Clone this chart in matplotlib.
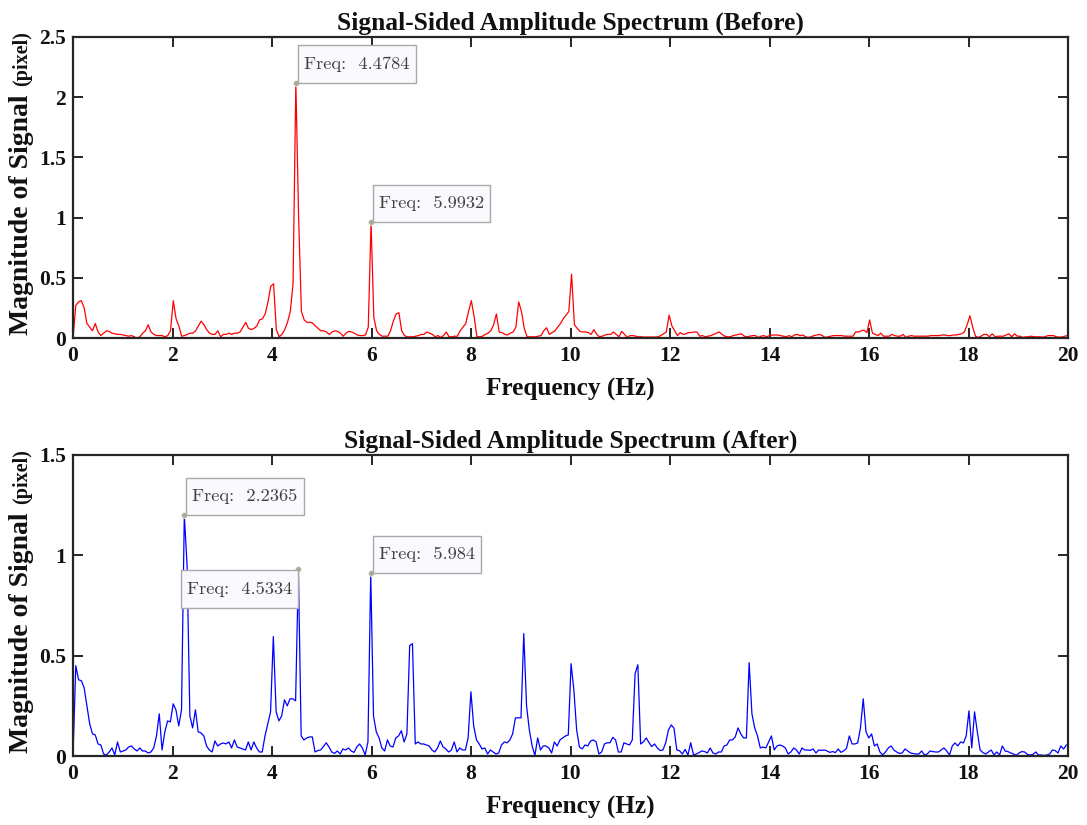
import numpy as np
import matplotlib
matplotlib.use("Agg")
import matplotlib.pyplot as plt

# ---------------- data ----------------
DF_BEFORE = 0.05599   # frequency resolution (Hz) of the "before" spectrum
DF_AFTER = 0.05593    # frequency resolution (Hz) of the "after" spectrum

amp_before = [
    0, 0.27, 0.30, 0.31, 0.25, 0.12, 0.09, 0.06, 0.12, 0.05,
    0.02, 0.04, 0.06, 0.055, 0.04, 0.035, 0.03, 0.03, 0.025, 0.02,
    0.015, 0.02, 0.01, 0.0, 0.01, 0.04, 0.06, 0.11, 0.05, 0.03,
    0.02, 0.02, 0.02, 0.01, 0.02, 0.06, 0.31, 0.16, 0.10, 0.015,
    0.02, 0.03, 0.04, 0.04, 0.06, 0.10, 0.14, 0.11, 0.07, 0.04,
    0.03, 0.03, 0.06, 0.01, 0.03, 0.03, 0.04, 0.03, 0.04, 0.04,
    0.05, 0.09, 0.13, 0.08, 0.07, 0.08, 0.10, 0.15, 0.16, 0.20,
    0.30, 0.43, 0.45, 0.07, 0.01, 0.03, 0.07, 0.13, 0.22, 0.45,
    2.12, 1.0, 0.22, 0.15, 0.13, 0.13, 0.125, 0.10, 0.08, 0.06,
    0.06, 0.05, 0.03, 0.05, 0.06, 0.055, 0.04, 0.015, 0.04, 0.055,
    0.05, 0.04, 0.025, 0.02, 0.02, 0.025, 0.09, 0.96, 0.17, 0.06,
    0.03, 0.015, 0.015, 0.015, 0.06, 0.14, 0.20, 0.21, 0.06, 0.02,
    0.01, 0.01, 0.01, 0.015, 0.02, 0.03, 0.03, 0.05, 0.04, 0.03,
    0.01, 0.02, 0.005, 0.02, 0.05, 0.01, 0.01, 0.015, 0.015, 0.06,
    0.09, 0.12, 0.22, 0.31, 0.18, 0.01, 0.01, 0.015, 0.03, 0.04,
    0.06, 0.11, 0.20, 0.05, 0.045, 0.03, 0.025, 0.04, 0.05, 0.09,
    0.30, 0.22, 0.08, 0.01, 0.01, 0.01, 0.01, 0.015, 0.02, 0.06,
    0.085, 0.03, 0.045, 0.06, 0.09, 0.12, 0.16, 0.19, 0.22, 0.53,
    0.11, 0.08, 0.055, 0.05, 0.05, 0.045, 0.03, 0.07, 0.03, 0.01,
    0.015, 0.025, 0.03, 0.03, 0.05, 0.03, 0.01, 0.055, 0.03, 0.005,
    0.02, 0.02, 0.015, 0.01, 0.01, 0.008, 0.008, 0.008, 0.008, 0.008,
    0.01, 0.02, 0.035, 0.05, 0.19, 0.10, 0.06, 0.02, 0.045, 0.03,
    0.035, 0.045, 0.045, 0.05, 0.05, 0.015, 0.02, 0.01, 0.015, 0.02,
    0.03, 0.04, 0.05, 0.03, 0.015, 0.01, 0.01, 0.02, 0.025, 0.03,
    0.035, 0.015, 0.01, 0.015, 0.02, 0.02, 0.005, 0.015, 0.02, 0.01,
    0.02, 0.025, 0.025, 0.025, 0.02, 0.015, 0.01, 0.02, 0.01, 0.025,
    0.03, 0.02, 0.025, 0.01, 0.005, 0.01, 0.02, 0.025, 0.03, 0.02,
    0.005, 0.01, 0.015, 0.02, 0.02, 0.02, 0.02, 0.015, 0.015, 0.015,
    0.015, 0.05, 0.05, 0.06, 0.065, 0.045, 0.15, 0.04, 0.03, 0.02,
    0.04, 0.015, 0.015, 0.015, 0.03, 0.02, 0.015, 0.015, 0.03, 0.005,
    0.015, 0.02, 0.015, 0.015, 0.015, 0.015, 0.015, 0.015, 0.02, 0.02,
    0.02, 0.02, 0.025, 0.025, 0.02, 0.02, 0.025, 0.025, 0.03, 0.035,
    0.05, 0.11, 0.185, 0.09, 0.015, 0.005, 0.015, 0.03, 0.03, 0.01,
    0.035, 0.01, 0.015, 0.015, 0.015, 0.025, 0.035, 0.01, 0.035, 0.015,
    0.015, 0.005, 0.01, 0.01, 0.015, 0.01, 0.01, 0.01, 0.008, 0.01,
    0.02, 0.02, 0.02, 0.01, 0.008, 0.008, 0.015, 0.02,
]

amp_after = [
    0, 0.45, 0.38, 0.375, 0.34, 0.25, 0.16, 0.11, 0.105, 0.06,
    0.055, 0.01, 0.005, 0.02, 0.04, 0.005, 0.07, 0.02, 0.025, 0.03,
    0.045, 0.05, 0.035, 0.025, 0.04, 0.025, 0.025, 0.015, 0.02, 0.04,
    0.10, 0.21, 0.03, 0.12, 0.175, 0.17, 0.26, 0.23, 0.15, 0.23,
    1.20, 0.95, 0.20, 0.14, 0.23, 0.12, 0.115, 0.10, 0.05, 0.03,
    0.02, 0.075, 0.05, 0.06, 0.065, 0.06, 0.07, 0.04, 0.08, 0.045,
    0.04, 0.035, 0.03, 0.07, 0.03, 0.07, 0.04, 0.02, 0.02, 0.10,
    0.16, 0.22, 0.595, 0.22, 0.175, 0.20, 0.28, 0.25, 0.285, 0.285,
    0.275, 0.93, 0.10, 0.08, 0.09, 0.095, 0.095, 0.02, 0.027, 0.03,
    0.047, 0.066, 0.045, 0.02, 0.013, 0.025, 0.01, 0.035, 0.03, 0.04,
    0.025, 0.018, 0.045, 0.06, 0.04, 0.005, 0.07, 0.91, 0.20, 0.12,
    0.09, 0.04, 0.025, 0.08, 0.05, 0.045, 0.09, 0.10, 0.126, 0.07,
    0.11, 0.55, 0.56, 0.06, 0.07, 0.06, 0.06, 0.055, 0.05, 0.03,
    0.02, 0.04, 0.075, 0.045, 0.035, 0.02, 0.03, 0.07, 0.02, 0.04,
    0.03, 0.03, 0.09, 0.32, 0.15, 0.08, 0.06, 0.035, 0.04, 0.01,
    0.03, 0.02, 0.01, 0.015, 0.055, 0.07, 0.066, 0.08, 0.11, 0.19,
    0.19, 0.19, 0.61, 0.25, 0.13, 0.05, 0.003, 0.09, 0.03, 0.05,
    0.05, 0.04, 0.015, 0.07, 0.05, 0.08, 0.09, 0.10, 0.105, 0.46,
    0.33, 0.13, 0.045, 0.035, 0.055, 0.05, 0.075, 0.08, 0.07, 0.01,
    0.02, 0.06, 0.066, 0.066, 0.093, 0.08, 0.02, 0.02, 0.066, 0.06,
    0.055, 0.08, 0.41, 0.455, 0.06, 0.07, 0.09, 0.067, 0.047, 0.06,
    0.04, 0.027, 0.03, 0.065, 0.13, 0.155, 0.138, 0.03, 0.026, 0.01,
    0.033, 0.005, 0.066, 0.005, 0.01, 0.017, 0.025, 0.022, 0.015, 0.04,
    0.015, 0.01, 0.02, 0.02, 0.05, 0.055, 0.08, 0.08, 0.095, 0.14,
    0.11, 0.09, 0.09, 0.465, 0.21, 0.14, 0.10, 0.04, 0.045, 0.04,
    0.07, 0.10, 0.03, 0.05, 0.055, 0.05, 0.04, 0.01, 0.02, 0.04,
    0.03, 0.01, 0.04, 0.03, 0.03, 0.028, 0.035, 0.015, 0.03, 0.028,
    0.03, 0.025, 0.018, 0.022, 0.017, 0.035, 0.018, 0.026, 0.038, 0.10,
    0.06, 0.06, 0.065, 0.14, 0.285, 0.12, 0.09, 0.11, 0.05, 0.06,
    0.02, 0.005, 0.02, 0.04, 0.05, 0.03, 0.02, 0.013, 0.015, 0.035,
    0.025, 0.015, 0.012, 0.01, 0.01, 0.025, 0.005, 0.01, 0.025, 0.022,
    0.02, 0.02, 0.03, 0.04, 0.025, 0.005, 0.05, 0.065, 0.05, 0.07,
    0.065, 0.10, 0.225, 0.04, 0.22, 0.12, 0.03, 0.017, 0.01, 0.02,
    0.03, 0.005, 0.02, 0.005, 0.05, 0.025, 0.022, 0.015, 0.01, 0.003,
    0.015, 0.022, 0.02, 0.008, 0.005, 0.008, 0.02, 0.005, 0.005, 0.003,
    0.005, 0.01, 0.03, 0.027, 0.015, 0.05, 0.035, 0.055,
]

freq_before = np.arange(len(amp_before)) * DF_BEFORE
freq_after = np.arange(len(amp_after)) * DF_AFTER

# data tips: (sample index, label, box placement)
tips_before = [(80, "4.4784", "ur"), (107, "5.9932", "ur")]
tips_after = [(40, "2.2365", "ur"), (81, "4.5334", "ll"), (107, "5.984", "ur")]

titles = ["Signal-Sided Amplitude Spectrum (Before)",
          "Signal-Sided Amplitude Spectrum (After)"]
xlabel = "Frequency (Hz)"
ylabel_main = "Magnitude of Signal"
ylabel_unit = "(pixel)"
xticks = list(range(0, 21, 2))
yticks_before = [0, 0.5, 1, 1.5, 2, 2.5]
yticks_after = [0, 0.5, 1, 1.5]

# ---------------- style ----------------
W, H = 1087, 825
DPI = 100
SERIF = ["Liberation Serif", "DejaVu Serif"]
AXC = "#262626"
TXT = "#111111"
plt.rcParams["font.family"] = SERIF

fig = plt.figure(figsize=(W / DPI, H / DPI), dpi=DPI)


def px_rect(left, top, right, bottom):
    return [left / W, 1 - bottom / H, (right - left) / W, (bottom - top) / H]


ax1 = fig.add_axes(px_rect(73, 37, 1068, 338))
ax2 = fig.add_axes(px_rect(73, 455, 1068, 756))


def style_axis(ax, yticks, ylim):
    ax.set_xlim(0, 20)
    ax.set_ylim(*ylim)
    ax.set_xticks(xticks)
    ax.set_xticklabels([str(t) for t in xticks])
    ax.set_yticks(yticks)
    ax.set_yticklabels([("%g" % t) for t in yticks])
    for s in ax.spines.values():
        s.set_linewidth(1.6)
        s.set_color(AXC)
    ax.tick_params(direction="in", length=7, width=1.4, color=AXC,
                   top=True, right=True, labelsize=15.5, labelcolor=TXT)
    ax.tick_params(axis="x", pad=6)
    ax.tick_params(axis="y", pad=5)
    for lab in ax.get_xticklabels() + ax.get_yticklabels():
        lab.set_fontweight("bold")
    ax.set_xlabel(xlabel, fontsize=18.2, fontweight="bold", labelpad=8, color=TXT)


TIP_FS = 13.3
PAD = 0.33
ASPECT = 1.8
def add_tips(ax, freqs, amps, tips):
    padx = PAD * TIP_FS * DPI / 72.0
    pady = padx * ASPECT
    for idx, lab, place in tips:
        x, y = freqs[idx], amps[idx]
        ax.plot([x], [y], "o", ms=4.2, mfc="#a8a8a0", mec="#f0f0d8", mew=0.6, zorder=5)
        txt = "Freq:  %s" % lab
        if place == "ur":
            off = (2 + padx, pady)
            ha, va = "left", "bottom"
        else:
            off = (-padx, -1 - pady)
            ha, va = "right", "top"
        ax.annotate(txt, xy=(x, y), xytext=off, textcoords="offset pixels",
                    ha=ha, va=va, fontsize=TIP_FS, family="cmr10", color="#404040", zorder=6,
                    bbox=dict(boxstyle="square,pad=%g" % PAD, mutation_aspect=ASPECT,
                              fc="#f9f9fe", ec="#a9a9a9", lw=1.0),
                    annotation_clip=False)


ax1.plot(freq_before, amp_before, color="#ff0000", lw=0.9)
ax2.plot(freq_after, amp_after, color="#0000ff", lw=0.9)
style_axis(ax1, yticks_before, (0, 2.5))
style_axis(ax2, yticks_after, (0, 1.5))
add_tips(ax1, freq_before, amp_before, tips_before)
add_tips(ax2, freq_after, amp_after, tips_after)

for ax, t in zip([ax1, ax2], titles):
    ax.set_title(t, fontsize=18.4, fontweight="bold", pad=5, color=TXT)

# y labels: main part + smaller unit part
fig.canvas.draw()
renderer = fig.canvas.get_renderer()
for bottom_px in (335, 753):
    t1 = fig.text(22 / W, 1 - bottom_px / H, ylabel_main, rotation=90, fontsize=20,
                  fontweight="bold", ha="center", va="bottom", color=TXT)
    bb = t1.get_window_extent(renderer)
    fig.text(22.5 / W, (bb.y1 + 8) / H, ylabel_unit, rotation=90, fontsize=14.5,
             fontweight="bold", ha="center", va="bottom", color=TXT)

fig.savefig("out.png", dpi=DPI, facecolor="white")
